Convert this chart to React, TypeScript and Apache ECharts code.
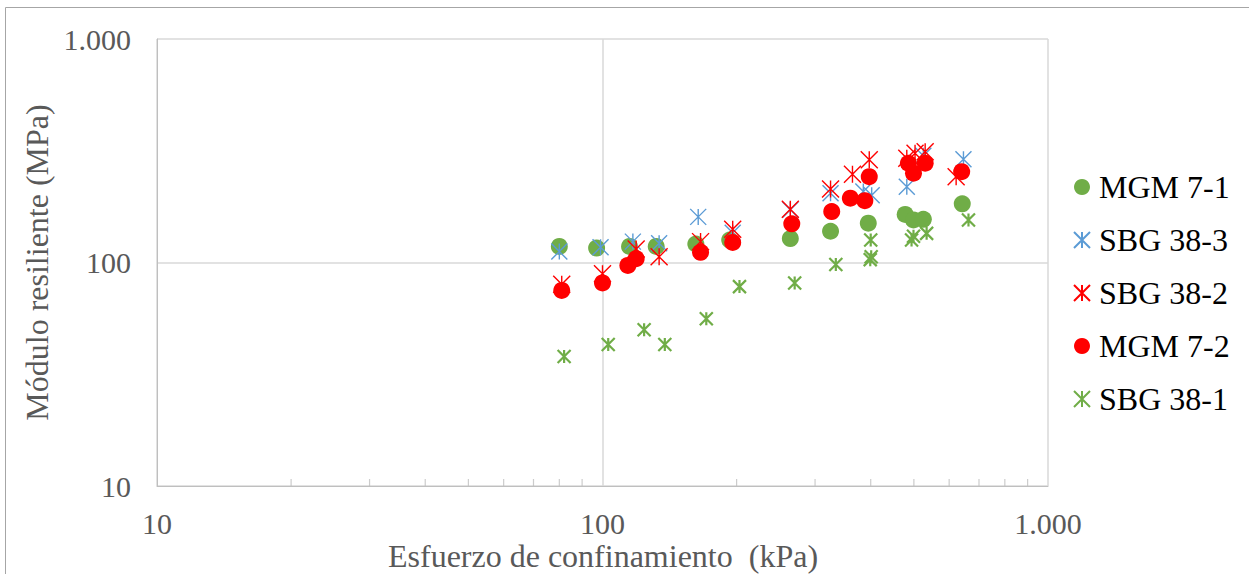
import React, { useEffect, useRef } from "react";
import * as echarts from "echarts";

// Resilient modulus (MPa) versus confining stress (kPa), log-log
const mgm71: [number, number][] = [
  [80, 118], [97, 116], [115, 118], [132, 118], [162, 121], [193, 126],
  [264, 128], [325, 138], [395, 150], [478, 164], [499, 155], [525, 156], [642, 183],
];
const sbg383: [number, number][] = [
  [80, 112], [99, 117], [117, 124], [134, 122], [164, 160], [196, 136],
  [264, 172], [325, 204], [385, 208], [402, 200], [482, 218], [525, 300], [646, 290],
];
const sbg382: [number, number][] = [
  [81, 80], [100, 89], [119, 115], [134, 106], [166, 124], [196, 141],
  [264, 173], [325, 213], [364, 248], [397, 288], [482, 293], [503, 308], [530, 313], [622, 242],
];
const mgm72: [number, number][] = [
  [81, 75], [100, 81], [114, 97], [119, 104], [166, 111], [196, 123],
  [266, 149], [327, 169], [360, 194], [388, 189], [397, 242], [486, 278], [499, 251], [530, 278], [640, 255],
];
const sbg381: [number, number][] = [
  [82, 38], [103, 43], [124, 50], [138, 43], [171, 56], [203, 78],
  [270, 81], [334, 98], [399, 103], [401, 106], [400, 126], [494, 126], [499, 131], [534, 135], [663, 155],
];

const seriesNames = ["MGM 7-1", "SBG 38-3", "SBG 38-2", "MGM 7-2", "SBG 38-1"];
const xTicks = [10, 100, 1000];
const xMinorTicks = [20, 30, 40, 50, 60, 70, 80, 90, 200, 300, 400, 500, 600, 700, 800, 900];
const xTitle = "Esfuerzo de confinamiento  (kPa)";
const yTitle = "Módulo resiliente (MPa)";

const GREEN = "#70AD47";
const BLUE = "#5B9BD5";
const RED = "#FF0000";
const FONT = "Liberation Serif";
const STAR = "path://M0,0L10,10M10,0L0,10M5,0L5,10";

const fmt = (v: number) => (v >= 1000 ? v.toLocaleString("de-DE") : String(v));

export default function App() {
  const ref = useRef<HTMLDivElement>(null);

  useEffect(() => {
    if (!ref.current) return;
    const chart = echarts.init(ref.current, undefined, { renderer: "svg" });

    const circle = (name: string, data: [number, number][], color: string) => ({
      name,
      type: "scatter",
      data,
      symbol: "circle",
      symbolSize: 17,
      itemStyle: { color, opacity: 1 },
      clip: false,
    });
    const star = (name: string, data: [number, number][], color: string, size: number, width: number) => ({
      name,
      type: "scatter",
      data,
      symbol: STAR,
      symbolSize: size,
      itemStyle: { color: "transparent", borderColor: color, borderWidth: width, opacity: 1 },
      clip: false,
    });

    chart.setOption({
      animation: false,
      backgroundColor: "#fff",
      textStyle: { fontFamily: FONT },
      graphic: [
        {
          type: "rect",
          shape: { x: 5.5, y: 7.5, width: 1260, height: 600 },
          style: { fill: "none", stroke: "#A6A6A6", lineWidth: 1 },
          silent: true,
        },
        {
          type: "text",
          x: 603,
          y: 556,
          style: {
            text: xTitle,
            fontFamily: FONT,
            fontSize: 32,
            fill: "#595959",
            align: "center",
            verticalAlign: "middle",
          },
          silent: true,
        },
      ],
      grid: { left: 157, right: 201, top: 39, bottom: 88, outerBoundsMode: "none", containLabel: false },
      xAxis: {
        type: "log",
        logBase: 10,
        min: xTicks[0],
        max: xTicks[xTicks.length - 1],
        axisLine: { show: true, lineStyle: { color: "#BFBFBF", width: 1 } },
        axisTick: { show: false },
        splitLine: { show: true, lineStyle: { color: "#D9D9D9", width: 1.5 } },
        axisLabel: {
          fontFamily: FONT,
          fontSize: 30,
          color: "#595959",
          margin: 22,
          formatter: (v: number) => fmt(v),
        },
      },
      yAxis: {
        type: "log",
        logBase: 10,
        min: 10,
        max: 1000,
        name: yTitle,
        nameLocation: "middle",
        nameGap: 104,
        nameRotate: 90,
        nameTextStyle: { fontFamily: FONT, fontSize: 32, color: "#595959" },
        axisLine: { show: true, lineStyle: { color: "#BFBFBF", width: 1 } },
        axisTick: { show: false },
        splitLine: { show: true, lineStyle: { color: "#D9D9D9", width: 1.5 } },
        axisLabel: {
          fontFamily: FONT,
          fontSize: 30,
          color: "#595959",
          margin: 26,
          formatter: (v: number) => fmt(v),
        },
      },
      legend: {
        data: seriesNames,
        orient: "vertical",
        left: 1068,
        top: 166,
        itemWidth: 16,
        itemHeight: 16,
        itemGap: 21,
        textStyle: { fontFamily: FONT, fontSize: 32, color: "#000", padding: [0, 0, 0, 4] },
      },
      series: [
        circle(seriesNames[0], mgm71, GREEN),
        star(seriesNames[1], sbg383, BLUE, 16, 1.4),
        star(seriesNames[2], sbg382, RED, 17, 1.4),
        circle(seriesNames[3], mgm72, RED),
        star(seriesNames[4], sbg381, GREEN, 13, 2.2),
        {
          name: "minor",
          type: "scatter",
          data: xMinorTicks.map((v) => [v, 10]),
          symbol: "rect",
          symbolSize: [1.2, 7],
          symbolOffset: [0, -3.5],
          itemStyle: { color: "#BFBFBF" },
          silent: true,
          clip: false,
          z: 1,
        },
      ],
    });

    return () => chart.dispose();
  }, []);

  return (
    <div
      ref={ref}
      style={{ position: "absolute", left: 0, top: 0, width: 1249, height: 574 }}
    />
  );
}
